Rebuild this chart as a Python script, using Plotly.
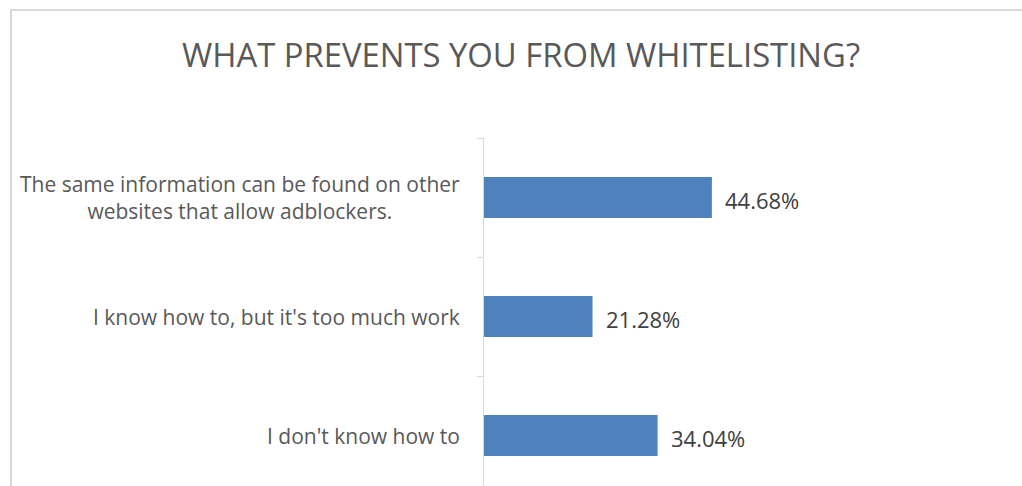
import plotly.graph_objects as go

# Survey answers, bottom to top as drawn
categories = [
    "I don't know how to",
    "I know how to, but it's too much work",
    "The same information can be found on other<br>websites that allow adblockers.",
]
shares = [34.04, 21.28, 44.68]
value_labels = ["34.04%", "21.28%", "44.68%"]

TITLE = "WHAT PREVENTS YOU FROM WHITELISTING?"
BAR_COLOR = "#4F81BD"
AXIS_GREY = "#D9D9D9"
FONT = "Open Sans"

W, H = 1022, 486
ML, MR, MT, MB = 484, 28, 138, 0
plot_w = W - ML - MR
plot_h = H - MT - MB
band_px = 119.0
y_top = 2.5
y_bottom = y_top - plot_h / band_px


def px_to_paper_x(px):
    return (px - ML) / plot_w


def px_to_paper_y(py):
    return (H - MB - py) / plot_h


fig = go.Figure()
fig.add_trace(go.Bar(
    x=shares,
    y=list(range(len(categories))),
    orientation="h",
    marker=dict(color=BAR_COLOR, line=dict(width=0)),
    width=0.345,
    hoverinfo="skip",
))

annotations = []
# Category labels, centred lines, right edge just left of the axis
for i, cat in enumerate(categories):
    annotations.append(dict(
        x=0, xref="paper", y=i, yref="y",
        text=cat, showarrow=False,
        xanchor="right", yanchor="middle", align="center",
        xshift=-22,
        font=dict(family=FONT, size=21, color="#595959"),
    ))
# Value labels just past the bar ends
for i, (v, lab) in enumerate(zip(shares, value_labels)):
    annotations.append(dict(
        x=v, xref="x", y=i, yref="y",
        text=lab, showarrow=False,
        xanchor="left", yanchor="middle",
        xshift=11, yshift=-2,
        font=dict(family=FONT, size=22, color="#404040"),
    ))

fig.update_layout(
    width=W, height=H,
    margin=dict(l=ML, r=MR, t=MT, b=MB, pad=0),
    paper_bgcolor="white",
    plot_bgcolor="white",
    showlegend=False,
    title=dict(
        text=TITLE,
        x=521 / W, xanchor="center", xref="container",
        y=1 - 56 / H, yanchor="middle", yref="container",
        font=dict(family=FONT, size=32.8, color="#595959"),
    ),
    xaxis=dict(
        range=[0, 100],
        visible=False,
        fixedrange=True,
    ),
    yaxis=dict(
        range=[y_bottom, y_top],
        tickmode="array",
        tickvals=[-0.5, 0.5, 1.5, 2.5],
        showticklabels=False,
        ticks="outside",
        ticklen=6,
        tickcolor=AXIS_GREY,
        tickwidth=1,
        showline=True,
        linecolor=AXIS_GREY,
        linewidth=1,
        showgrid=False,
        zeroline=False,
        fixedrange=True,
    ),
    annotations=annotations,
    shapes=[dict(
        # chart frame; its right and bottom edges sit beyond the page
        type="rect", xref="paper", yref="paper",
        x0=px_to_paper_x(11), x1=px_to_paper_x(1031),
        y0=px_to_paper_y(560), y1=px_to_paper_y(10),
        line=dict(color=AXIS_GREY, width=2),
        fillcolor="rgba(0,0,0,0)",
        layer="below",
    )],
)

fig.write_html("out.html", config={"displayModeBar": False})
